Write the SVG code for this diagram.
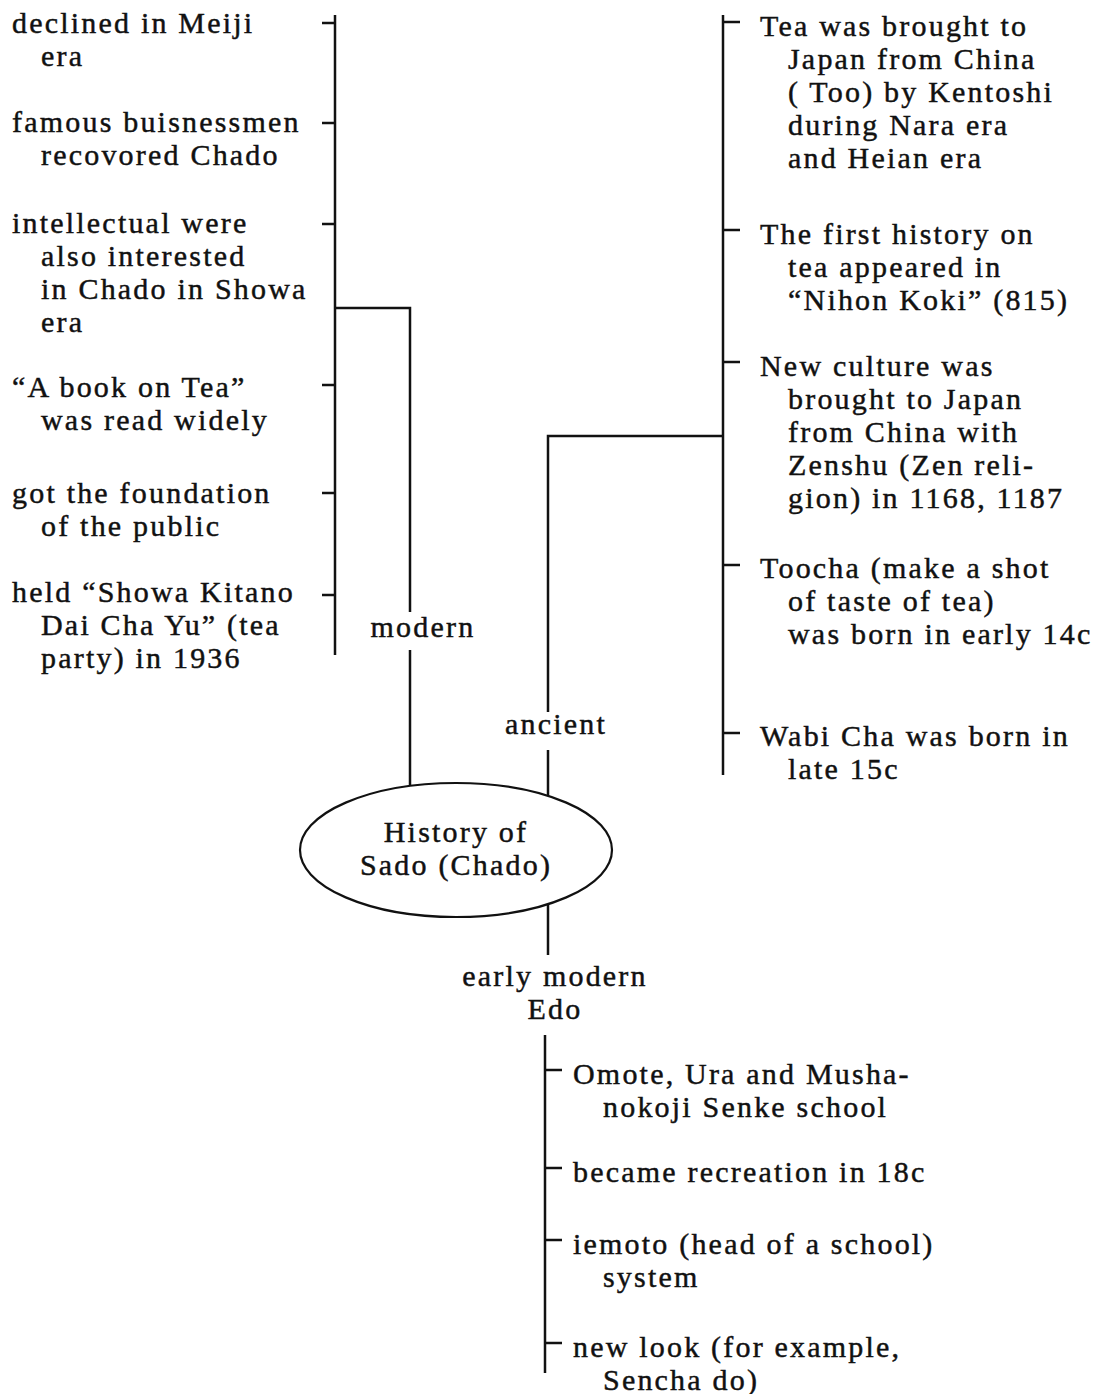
<svg xmlns="http://www.w3.org/2000/svg" width="1101" height="1394" viewBox="0 0 1101 1394">
  <style>
    text { font-family: "Liberation Serif", "DejaVu Serif", serif; font-size: 30px; letter-spacing: 2.2px; fill: #111; stroke: #111; stroke-width: 0.45px; }
    .mid { text-anchor: middle; }
    .wire { fill: none; stroke: #111; stroke-width: 2.5; stroke-linecap: butt; }
    .oval { fill: #fff; stroke: #111; stroke-width: 2.2; }
  </style>

  <!-- connectors: brackets, spines and ticks -->
  <g id="connectors" class="wire">
    <!-- modern spine and ticks -->
    <path d="M335 15 V655"/>
    <path d="M322 23 H335 M322 123 H335 M322 224 H335 M322 385 H335 M322 493 H335 M322 595 H335"/>
    <path d="M335 308 H410 V612"/>
    <path d="M410 650 V787"/>
    <!-- ancient spine and ticks -->
    <path d="M723 15 V775"/>
    <path d="M723 22 H740 M723 230 H740 M723 362 H740 M723 565 H740 M723 733 H740"/>
    <path d="M723 436 H548 V712"/>
    <path d="M548 750 V797"/>
    <!-- early modern spine and ticks -->
    <path d="M548 904 V955"/>
    <path d="M545 1035 V1373"/>
    <path d="M545 1070 H562 M545 1168 H562 M545 1240 H562 M545 1343 H562"/>
  </g>

  <!-- central node -->
  <g id="root">
    <ellipse class="oval" cx="456" cy="850" rx="156" ry="67"/>
    <text class="mid" x="456" y="842">History of</text>
    <text class="mid" x="456" y="875">Sado (Chado)</text>
  </g>

  <!-- period labels -->
  <g id="period-modern"><text class="mid" x="423" y="637">modern</text></g>
  <g id="period-ancient"><text class="mid" x="556" y="734">ancient</text></g>
  <g id="period-early-modern">
    <text class="mid" x="555" y="986">early modern</text>
    <text class="mid" x="555" y="1019">Edo</text>
  </g>

  <!-- modern items -->
  <g id="modern-1"><text x="12" y="33">declined in Meiji</text><text x="41" y="66">era</text></g>
  <g id="modern-2"><text x="12" y="132">famous buisnessmen</text><text x="41" y="165">recovored Chado</text></g>
  <g id="modern-3"><text x="12" y="233">intellectual were</text><text x="41" y="266">also interested</text><text x="41" y="299">in Chado in Showa</text><text x="41" y="332">era</text></g>
  <g id="modern-4"><text x="12" y="397">“A book on Tea”</text><text x="41" y="430">was read widely</text></g>
  <g id="modern-5"><text x="12" y="503">got the foundation</text><text x="41" y="536">of the public</text></g>
  <g id="modern-6"><text x="12" y="602">held “Showa Kitano</text><text x="41" y="635">Dai Cha Yu” (tea</text><text x="41" y="668">party) in 1936</text></g>

  <!-- ancient items -->
  <g id="ancient-1"><text x="760" y="36">Tea was brought to</text><text x="788" y="69">Japan from China</text><text x="788" y="102">( Too) by Kentoshi</text><text x="788" y="135">during Nara era</text><text x="788" y="168">and Heian era</text></g>
  <g id="ancient-2"><text x="760" y="244">The first history on</text><text x="788" y="277">tea appeared in</text><text x="788" y="310">“Nihon Koki” (815)</text></g>
  <g id="ancient-3"><text x="760" y="376">New culture was</text><text x="788" y="409">brought to Japan</text><text x="788" y="442">from China with</text><text x="788" y="475">Zenshu (Zen reli-</text><text x="788" y="508">gion) in 1168, 1187</text></g>
  <g id="ancient-4"><text x="760" y="578">Toocha (make a shot</text><text x="788" y="611">of taste of tea)</text><text x="788" y="644">was born in early 14c</text></g>
  <g id="ancient-5"><text x="760" y="746">Wabi Cha was born in</text><text x="788" y="779">late 15c</text></g>

  <!-- early modern items -->
  <g id="edo-1"><text x="573" y="1084">Omote, Ura and Musha-</text><text x="603" y="1117">nokoji Senke school</text></g>
  <g id="edo-2"><text x="573" y="1182">became recreation in 18c</text></g>
  <g id="edo-3"><text x="573" y="1254">iemoto (head of a school)</text><text x="603" y="1287">system</text></g>
  <g id="edo-4"><text x="573" y="1357">new look (for example,</text><text x="603" y="1390">Sencha do)</text></g>
</svg>
